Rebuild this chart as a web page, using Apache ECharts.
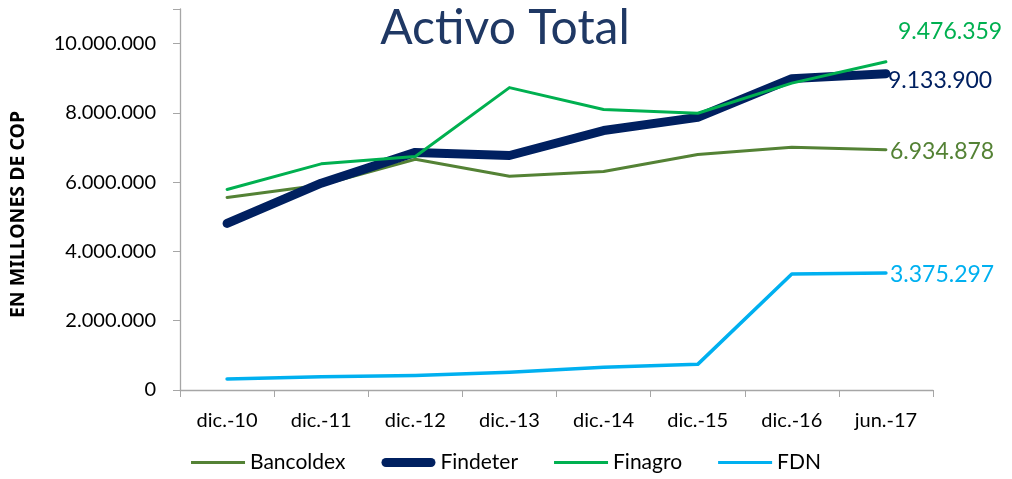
<!DOCTYPE html>
<html>
<head>
<meta charset="utf-8">
<script src="https://cdn.jsdelivr.net/npm/echarts@6/dist/echarts.min.js"></script>
<style>
  html, body { margin: 0; padding: 0; background: #fff; }
  #chart { width: 1012px; height: 479px; }
</style>
</head>
<body>
<div id="chart"></div>
<script>
// periods on the x axis
const categories = ["dic.-10", "dic.-11", "dic.-12", "dic.-13", "dic.-14", "dic.-15", "dic.-16", "jun.-17"];

// total assets, millions of COP (last point is labelled)
const bancoldex = [5560000, 5920000, 6660000, 6170000, 6310000, 6800000, 7010000, 6934878];
const findeter = [4810000, 5970000, 6860000, 6770000, 7490000, 7870000, 8990000, 9133900];
const finagro = [5790000, 6530000, 6740000, 8730000, 8100000, 7990000, 8860000, 9476359];
const fdn = [320000, 380000, 420000, 510000, 660000, 740000, 3350000, 3375297];

const FONT = "Lato, 'Open Sans', sans-serif";

// legend swatches: plain strokes, the Findeter one thick with round ends
const THIN = "path://M0,0H54V3.2H0Z";
const THICK = "path://M4.5,0H49.5A4.5,4.5 0 0 1 49.5,9H4.5A4.5,4.5 0 0 1 4.5,0Z";

// 9476359 -> "9.476.359"
function fmt(v) {
  return String(Math.round(v)).replace(/\B(?=(\d{3})+(?!\d))/g, ".");
}

function lineSeries(name, data, color, width, offset) {
  return {
    name: name,
    type: "line",
    data: data,
    symbol: "none",
    lineStyle: { color: color, width: width, cap: "round", join: "round" },
    itemStyle: { color: color },
    endLabel: {
      show: true,
      color: color,
      fontSize: 23,
      fontFamily: FONT,
      distance: 4,
      offset: offset,
      formatter: (p) => fmt(p.value),
    },
    emphasis: { disabled: true },
  };
}

const myChart = echarts.init(document.getElementById("chart"), null, { renderer: "canvas" });

const option = {
  animation: false,
  title: {
    text: "Activo Total",
    left: 500,
    top: 0,
    textAlign: "center",
    textStyle: { color: "#1F3864", fontSize: 48, fontWeight: "normal", fontFamily: FONT },
  },
  grid: { left: 175, right: 79, top: 9, bottom: 89 },
  legend: {
    bottom: 1,
    left: "center",
    itemWidth: 54,
    itemHeight: 10,
    itemGap: 36,
    symbolKeepAspect: true,
    textStyle: { fontSize: 21, color: "#000", fontFamily: FONT },
    data: [
      { name: "Bancoldex", icon: THIN },
      { name: "Findeter", icon: THICK },
      { name: "Finagro", icon: THIN },
      { name: "FDN", icon: THIN },
    ],
  },
  xAxis: {
    type: "category",
    data: categories,
    boundaryGap: true,
    axisLine: { lineStyle: { color: "#A6A6A6", width: 1.3 } },
    axisTick: { show: true, length: 7, lineStyle: { color: "#A6A6A6" } },
    axisLabel: { fontSize: 20, color: "#000", fontFamily: FONT, margin: 21 },
  },
  yAxis: {
    type: "value",
    min: 0,
    max: 11000000,
    interval: 2000000,
    name: "EN MILLONES DE COP",
    nameLocation: "middle",
    nameGap: 152,
    nameTextStyle: {
      fontSize: 19.5,
      fontWeight: "bold",
      color: "#000",
      fontFamily: "'Noto Sans', sans-serif",
      padding: [0, 30, 0, 0],
    },
    axisLine: { show: true, lineStyle: { color: "#A6A6A6", width: 1.3 } },
    axisTick: { show: true, length: 7, lineStyle: { color: "#A6A6A6" } },
    splitLine: { show: false },
    axisLabel: {
      fontSize: 20,
      color: "#000",
      fontFamily: FONT,
      margin: 24,
      formatter: (v) => (v % 2000000 === 0 ? fmt(v) : ""),
    },
  },
  series: [
    lineSeries("Bancoldex", bancoldex, "#548235", 3, [0, 2]),
    lineSeries("Findeter", findeter, "#002060", 9, [-2, 7]),
    lineSeries("Finagro", finagro, "#00B050", 3, [8, -30]),
    lineSeries("FDN", fdn, "#00B0F0", 3.5, [0, 1]),
  ],
};

myChart.setOption(option);
</script>
</body>
</html>
